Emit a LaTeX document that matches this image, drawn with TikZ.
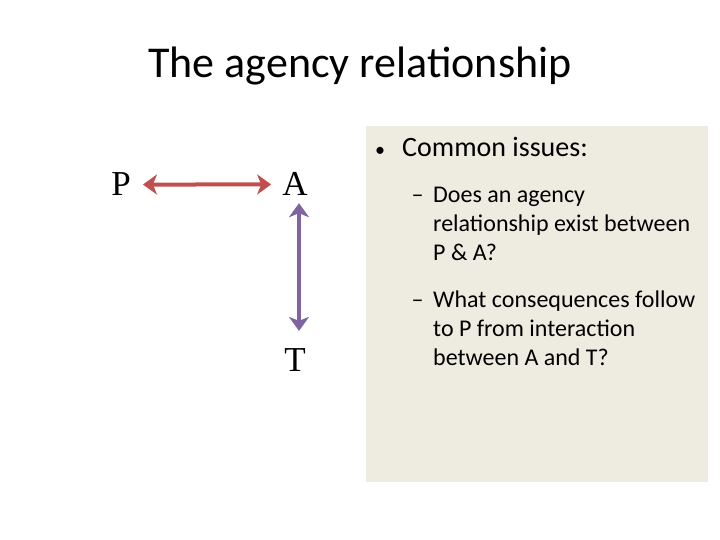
\documentclass[tikz,border=0pt]{standalone}
\usepackage{fontspec}
\setmainfont{Carlito}
\newfontfamily\letterfont{Liberation Serif}
\usetikzlibrary{positioning,arrows.meta}
\definecolor{boxtan}{HTML}{EEECE1}
\definecolor{linkred}{HTML}{C0504D}
\definecolor{linkpurple}{HTML}{8064A2}
\begin{document}
\begin{tikzpicture}[x=1pt,y=-1pt,>={Stealth[length=14pt,width=20pt,inset=4pt]},
  party/.style={font=\letterfont\fontsize{35}{40}\selectfont,inner sep=0pt,anchor=base},
  item/.style={anchor=base west,inner sep=0pt,align=left,font=\fontsize{24}{28.6}\selectfont},
  link/.style={<->,line width=4pt}]
\useasboundingbox (0,0) rectangle (720,540);
\fill[boxtan] (366,126) rectangle (708,482);
\node[anchor=base,inner sep=0pt,font=\fontsize{44}{53}\selectfont] (title) at (360,78) {The agency relationship};
\node[party] (P) at (121,196) {P};
\node[party] (A) at (295,196) {A};
\node[party] (T) at (295,371) {T};
\draw[link,linkred,shorten <=12pt,shorten >=11pt] (P) -- (A);
\draw[link,linkpurple,shorten <=7pt,shorten >=17pt] ([xshift=4pt]A.south) -- ([xshift=4pt]T.north);
\node[item,font=\fontsize{28}{33.6}\selectfont] (issues) at (402,157) {\llap{{\fontsize{20}{24}\selectfont•}\hspace{17pt}}Common issues:};
\node[item] (q1) at (433,260) {\llap{\makebox[13pt]{–}\hspace{9pt}}Does an agency\\relationship exist between\\P \& A?};
\node[item] (q2) at (433,365) {\llap{\makebox[13pt]{–}\hspace{9pt}}What consequences follow\\to P from interaction\\between A and T?};
\end{tikzpicture}
\end{document}
